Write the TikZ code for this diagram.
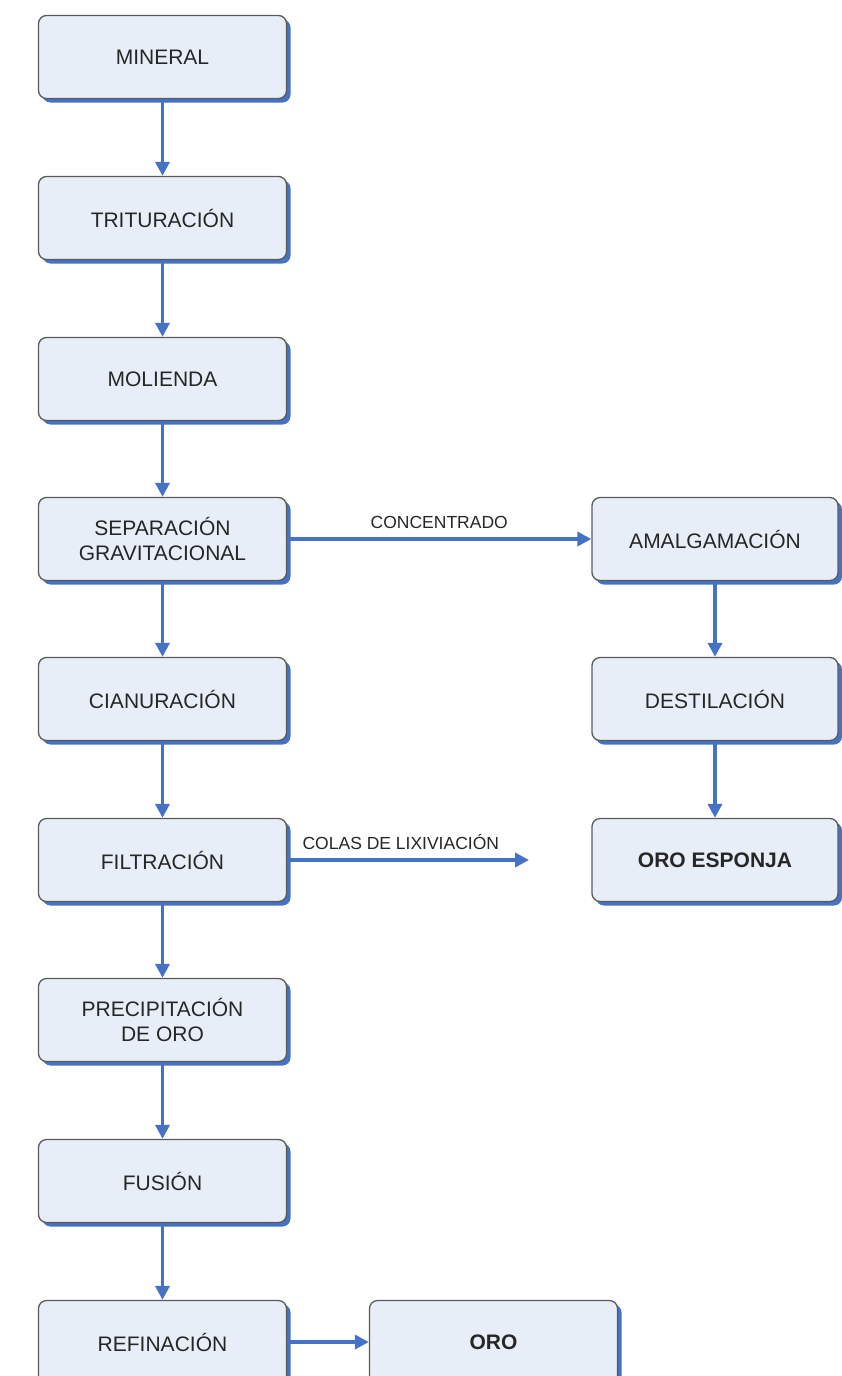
\documentclass[tikz,border=0pt]{standalone}
\usepackage{fontspec}
\setmainfont{Liberation Sans}
\usetikzlibrary{shadows,arrows.meta}
\definecolor{boxfill}{HTML}{E8EEF8}
\definecolor{boxline}{HTML}{5A5A5A}
\definecolor{flow}{HTML}{4472C4}
\tikzset{
  stepbox/.style={draw=boxline, line width=1.3pt, fill=boxfill, rounded corners=8pt,
    minimum width=248pt, minimum height=83pt, inner sep=0pt, align=center,
    font=\fontsize{21}{25}\selectfont, text=black!85,
    drop shadow={shadow xshift=4pt, shadow yshift=-4pt, fill=flow, opacity=1}},
  flowarrow/.style={draw=flow, line width=3.5pt, -{Triangle[length=14pt,width=14pt]}},
  flowlabel/.style={font=\fontsize{17.5}{20}\selectfont, text=black!85, inner sep=0pt}
}
\begin{document}
\begin{tikzpicture}[x=1pt,y=-1pt]
\useasboundingbox (0,0) rectangle (842,1376);
\node[stepbox] (mineral) at (162.5,57) {MINERAL};
\node[stepbox] (trit) at (162.5,218) {TRITURACIÓN};
\node[stepbox] (mol) at (162.5,379) {MOLIENDA};
\node[stepbox] (sep) at (162.5,539) {SEPARACIÓN\\GRAVITACIONAL};
\node[stepbox] (cian) at (162.5,699) {CIANURACIÓN};
\node[stepbox] (filt) at (162.5,860) {FILTRACIÓN};
\node[stepbox] (prec) at (162.5,1020) {PRECIPITACIÓN\\DE ORO};
\node[stepbox] (fus) at (162.5,1181) {FUSIÓN};
\node[stepbox] (ref) at (162.5,1342) {REFINACIÓN};
\node[stepbox] (oro) at (493.5,1342) {\bfseries ORO};
\node[stepbox, minimum width=246pt] (amal) at (715,539) {AMALGAMACIÓN};
\node[stepbox, minimum width=246pt] (dest) at (715,699) {DESTILACIÓN};
\node[stepbox, minimum width=246pt] (esp) at (715,860) {\bfseries ORO ESPONJA};
\coordinate (colasend) at (529,860);
\draw[flowarrow] (mineral) -- (trit);
\draw[flowarrow] (trit) -- (mol);
\draw[flowarrow] (mol) -- (sep);
\draw[flowarrow] (sep) -- (cian);
\draw[flowarrow] (cian) -- (filt);
\draw[flowarrow] (filt) -- (prec);
\draw[flowarrow] (prec) -- (fus);
\draw[flowarrow] (fus) -- (ref);
\draw[flowarrow] (ref) -- (oro);
\draw[flowarrow] (amal) -- (dest);
\draw[flowarrow] (dest) -- (esp);
\draw[flowarrow] (sep) -- node[flowlabel, above=9pt, pos=0.5] (conc) {CONCENTRADO} (amal);
\draw[flowarrow] (filt.east) -- node[flowlabel, above=9pt, pos=0.47] (colas) {COLAS DE LIXIVIACIÓN} (colasend);
\end{tikzpicture}
\end{document}
